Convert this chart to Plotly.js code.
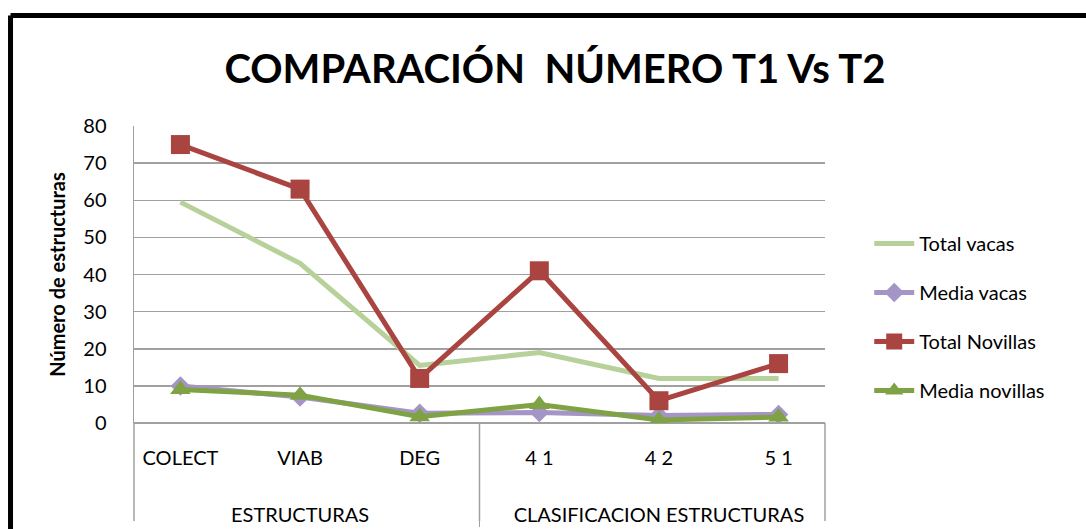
<!DOCTYPE html>
<html>
<head>
<meta charset="utf-8">
<script src="https://cdn.plot.ly/plotly-3.0.1.min.js"></script>
<style>html,body{margin:0;padding:0;background:#fff;}#chart{width:1086px;height:529px;}</style>
</head>
<body>
<div id="chart"></div>
<script>
const groups = ["ESTRUCTURAS", "ESTRUCTURAS", "ESTRUCTURAS",
  "CLASIFICACION ESTRUCTURAS", "CLASIFICACION ESTRUCTURAS", "CLASIFICACION ESTRUCTURAS"];
const categories = ["COLECT", "VIAB", "DEG", "4 1", "4 2", "5 1"];
const totalVacas = [59.5, 43, 15.5, 19, 12, 12];
const mediaVacas = [10, 7, 2.6, 2.8, 2, 2.3];
const totalNovillas = [75, 63, 12, 41, 6, 16];
const mediaNovillas = [9, 7.5, 1.7, 5, 0.8, 1.6];
const yTicks = [0, 10, 20, 30, 40, 50, 60, 70, 80];

const FONT = "Lato, 'Open Sans', sans-serif";
const x = [groups.map(g => "<br><br>" + g), categories];

const traces = [
  {name: "Total vacas", x: x, y: totalVacas, type: "scatter", mode: "lines",
   line: {color: "#B6D19A", width: 5}, legendgroup: "a"},
  {name: "Media vacas", x: x, y: mediaVacas, type: "scatter", mode: "lines+markers",
   line: {color: "#A594C6", width: 5}, marker: {symbol: "diamond", size: 15, color: "#A594C6"}, legendgroup: "b"},
  {name: "Total Novillas", x: x, y: totalNovillas, type: "scatter", mode: "lines+markers",
   line: {color: "#AA4441", width: 5}, marker: {symbol: "square", size: 19, color: "#AA4441"}, legendgroup: "c"},
  {name: "Media novillas", x: x, y: mediaNovillas, type: "scatter", mode: "lines+markers",
   line: {color: "#7FA344", width: 5}, marker: {symbol: "triangle-up", size: 18, color: "#7FA344"}, legendgroup: "d"}
];

const layout = {
  width: 1086, height: 529,
  paper_bgcolor: "#fff", plot_bgcolor: "#fff",
  margin: {l: 134, r: 261, t: 126, b: 106},
  font: {family: FONT, color: "#000", size: 20},
  title: {text: "<b>COMPARACIÓN  NÚMERO T1 Vs T2</b>", font: {family: FONT, size: 40, color: "#000"},
          xref: "container", x: 0.511, yref: "container", y: 0.87, xanchor: "center", yanchor: "middle"},
  xaxis: {type: "multicategory", showgrid: false, zeroline: false, showline: false,
          ticks: "", ticklabelstandoff: 21, tickfont: {family: FONT, size: 20, color: "#000"},
          showdividers: true, dividercolor: "#A0A0A0", dividerwidth: 1.5, fixedrange: true},
  yaxis: {range: [0, 80], tickvals: yTicks, ticktext: yTicks.map(String), showgrid: true,
          gridcolor: "#A0A0A0", gridwidth: 1.5, zeroline: true, zerolinecolor: "#A0A0A0", zerolinewidth: 1.5,
          showline: true, linecolor: "#A0A0A0", linewidth: 1.5,
          ticks: "outside", ticklen: 22, tickcolor: "rgba(0,0,0,0)",
          tickfont: {family: FONT, size: 20, color: "#000"},
          title: {text: "<b>Número de estructuras</b>", font: {family: FONT, size: 20, color: "#000"}, standoff: 12},
          fixedrange: true},
  legend: {x: 1.064, xanchor: "left", y: 0.67, yanchor: "top", traceorder: "grouped", tracegroupgap: 20,
           font: {family: FONT, size: 20, color: "#000"}, itemwidth: 40, bgcolor: "rgba(0,0,0,0)"},
  shapes: [
    {type: "line", xref: "paper", yref: "paper", x0: 0, x1: 0, y0: 0, y1: -0.33, line: {color: "#A0A0A0", width: 1.5}},
    {type: "line", xref: "paper", yref: "paper", x0: 0.5, x1: 0.5, y0: 0, y1: -0.33, line: {color: "#A0A0A0", width: 1.5}},
    {type: "line", xref: "paper", yref: "paper", x0: 1, x1: 1, y0: 0, y1: -0.33, line: {color: "#A0A0A0", width: 1.5}},
    {type: "line", xref: "paper", yref: "paper", x0: -0.1787, x1: 1.5, y0: 1.372, y1: 1.372, line: {color: "#000", width: 5}},
    {type: "line", xref: "paper", yref: "paper", x0: -0.1787, x1: -0.1787, y0: 1.372, y1: -0.5, line: {color: "#000", width: 5}}
  ],
  showlegend: true
};

Plotly.newPlot("chart", traces, layout, {displayModeBar: false, staticPlot: true});
</script>
</body>
</html>
